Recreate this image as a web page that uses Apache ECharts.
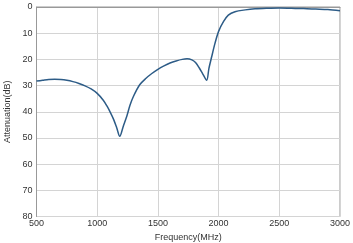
<!DOCTYPE html>
<html><head><meta charset="utf-8">
<script src="https://cdn.jsdelivr.net/npm/echarts@6/dist/echarts.min.js"></script>
<style>html,body{margin:0;padding:0;background:#fff}#c{width:353px;height:243px}</style>
</head><body><div id="c"></div>
<script>
const freqs = [500,550,600,650,700,750,800,850,900,950,1000,1050,1080,1110,1135,1160,1186,1215,1245,1270,1300,1350,1400,1450,1500,1550,1600,1650,1700,1740,1780,1810,1840,1870,1902,1920,1943,1970,2000,2040,2080,2135,2220,2300,2400,2500,2600,2700,2800,2900,3000];
const atten = [28.3,28.0,27.7,27.6,27.7,28.0,28.5,29.2,30.1,31.3,33.0,35.6,37.8,40.4,42.9,46.0,49.4,45.5,41.5,37.5,34.0,29.7,27.3,25.4,23.8,22.5,21.4,20.6,20.0,19.8,20.2,21.2,23.2,25.6,28.0,23.5,19.0,13.9,9.3,5.6,3.1,1.8,1.1,0.7,0.5,0.4,0.5,0.6,0.8,1.0,1.4];
const xName = 'Frequency(MHz)';
const yName = 'Attenuation(dB)';
const chart = echarts.init(document.getElementById('c'));
const font = 'Liberation Sans, Arial, sans-serif';
chart.setOption({
  animation:false,
  grid:{left:36.5,right:13,top:7,bottom:26.5,containLabel:false,outerBoundsMode:'none',show:true,borderColor:'#999',borderWidth:1},
  xAxis:{type:'value',min:500,max:3000,interval:500,name:xName,nameLocation:'middle',nameGap:16,
    nameTextStyle:{color:'#333',fontSize:9,fontFamily:font},
    axisLine:{lineStyle:{color:'#999'}},axisTick:{show:false},
    axisLabel:{color:'#333',fontSize:9,fontFamily:font,margin:3,formatter:v=>String(v)},
    splitLine:{lineStyle:{color:'#d4d4d4'}}},
  yAxis:{type:'value',min:0,max:80,interval:10,inverse:true,name:yName,nameLocation:'middle',nameGap:24,
    nameTextStyle:{color:'#333',fontSize:9,fontFamily:font},
    axisLine:{show:true,lineStyle:{color:'#999'}},axisTick:{show:false},
    axisLabel:{color:'#333',fontSize:9,fontFamily:font,margin:4,formatter:v=>String(v)},
    splitLine:{lineStyle:{color:'#d4d4d4'}}},
  series:[{type:'line',data:freqs.map((f,i)=>[f,atten[i]]),showSymbol:false,smooth:0.3,
    lineStyle:{color:'#2d5c87',width:1.5}}]
});
</script></body></html>
